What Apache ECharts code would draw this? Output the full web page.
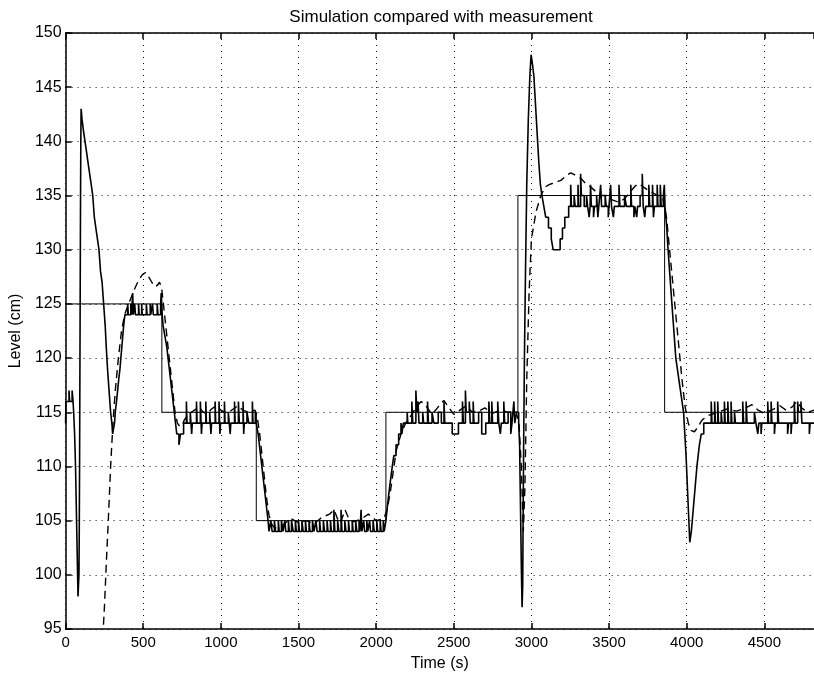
<!DOCTYPE html>
<html>
<head>
<meta charset="utf-8">
<script src="https://cdn.jsdelivr.net/npm/echarts@6/dist/echarts.min.js"></script>
<style>html,body{margin:0;padding:0;background:#fff}#c{width:814px;height:677px}</style>
</head>
<body>
<div id="c"></div>
<script>
const titleText = 'Simulation compared with measurement';
const xName = 'Time (s)';
const yName = 'Level (cm)';
const xMin = 0, xMax = 4820, xStep = 500;
const yMin = 95, yMax = 150, yStep = 5;

// Setpoint (thin solid)
const setpoint = [[0,125],[620,125],[620,115],[1228,115],[1228,105],[2063,105],[2063,115],[2913,115],[2913,135],[3858,135],[3858,115],[4820,115]];

// Measured level (quantized, value holds until next listed time)
const measured = [
[0,114],[2,116],[22,117],[26,116],[42,117],[48,116],[52,115],[58,113],[64,110],[68,107],[72,104],[76,101],[80,98],[86,100],[88,104],[90,110],[92,118],[94,126],[96,134],[98,140],[100,143],[106,142],[115,141],[125,140],[135,139],[145,138],[155,137],[165,136],[175,135],[185,133],[195,132],[205,131],[215,130],[225,128],[235,127],[245,125],[255,123],[262,121],[270,119],[280,117],[290,115],[298,114],[303,113],[315,114],[320,115],[328,116],[335,117],[342,118],[350,119],[356,120],[362,121],[368,122],[374,123],[382,124],
[400,125],[404,124],[420,125],[425,124],[432,126],[436,124],[445,125],[450,124],[470,125],[474,124],[490,125],[494,124],[520,125],[525,124],[545,125],[548,124],[560,125],[565,124],[590,125],[595,124],[612,125],[616,126],[622,124],[628,123],[640,122],[652,121],[660,120],[668,119],[676,118],[684,117],[692,116],[700,115],[708,114],[716,113],[730,112],[740,113],
[760,114],[778,116],[782,114],[803,115],[812,113],[816,114],[843,116],[847,114],[868,116],[875,113],[879,114],[903,116],[907,114],[928,115],[936,113],[940,114],[963,116],[967,114],[988,116],[994,113],[998,114],[1023,116],[1027,114],[1048,115],[1060,113],[1064,114],[1088,116],[1092,114],[1113,116],[1119,114],[1143,116],[1147,113],[1151,114],[1168,115],[1180,114],[1203,116],[1207,114],[1222,115],
[1228,114],[1240,113],[1248,112],[1256,111],[1264,110],[1272,109],[1280,108],[1288,107],[1296,106],[1304,105],
[1310,104],[1322,105],[1330,104],[1345,105],[1352,104],[1370,105],[1376,104],[1390,105],[1400,104],[1412,105],[1418,104],[1435,105],[1441,104],[1455,105],[1466,104],[1480,105],[1486,104],[1500,105],[1506,104],[1522,105],[1530,104],[1545,105],[1551,104],[1568,105],[1574,104],[1590,105],[1600,104],[1612,105],[1620,104],[1636,105],[1642,104],[1660,105],[1668,104],[1684,105],[1690,104],[1706,105],[1712,104],[1728,106],[1734,104],[1752,105],[1760,104],[1774,106],[1780,104],[1798,105],[1806,104],[1822,105],[1828,104],[1846,105],[1852,104],[1868,105],[1876,104],[1890,105],[1896,104],[1903,106],[1908,104],[1920,105],[1926,104],[1940,105],[1946,104],[1958,105],[1964,104],[1980,105],[1988,104],[2004,105],[2010,104],[2026,105],[2032,104],[2046,105],[2052,104],
[2063,105],[2070,106],[2078,107],[2086,108],[2095,109],[2104,110],[2114,111],[2128,112],[2145,113],[2160,114],[2166,113],
[2175,114],[2200,115],[2204,114],[2230,116],[2236,114],[2256,117],[2262,115],[2270,116],[2276,114],[2300,115],[2306,114],[2331,116],[2337,114],[2360,115],[2372,114],[2400,115],[2420,114],[2437,116],[2442,114],[2490,113],[2530,114],[2556,116],[2562,114],[2575,117],[2580,115],[2600,116],[2606,114],[2625,116],[2630,114],[2660,115],[2680,113],[2706,114],[2726,116],[2732,114],[2745,116],[2750,114],[2783,116],[2790,114],[2800,113],[2806,114],[2822,116],[2828,114],[2850,115],[2867,113],[2875,114],[2887,116],[2893,114],[2905,115],
[2918,114],[2924,112],[2928,108],[2932,104],[2936,100],[2940,97],[2944,99],[2946,104],[2950,112],[2955,120],[2962,128],[2970,136],[2980,142],[2990,146],[2998,148],[3008,147],[3016,146],[3024,144],[3032,142],[3040,140],[3048,138],[3058,136],[3068,135],[3080,134],[3092,133],[3110,132],[3128,131],[3140,130],[3185,131],[3200,132],[3215,133],
[3240,134],[3253,136],[3258,134],[3275,135],[3282,134],[3300,136],[3304,134],[3317,137],[3322,135],[3340,134],[3355,135],[3362,134],[3372,133],[3378,134],[3381,136],[3386,134],[3400,133],[3406,134],[3420,135],[3428,133],[3434,134],[3446,136],[3452,134],[3475,135],[3482,134],[3495,133],[3500,134],[3510,136],[3516,134],[3528,133],[3534,134],[3564,136],[3570,134],[3600,135],[3612,134],[3640,136],[3645,134],[3660,133],[3666,134],[3678,133],[3684,134],[3700,135],[3714,137],[3720,134],[3730,133],[3736,134],[3756,136],[3762,134],[3780,136],[3786,133],[3792,134],[3810,136],[3815,134],[3830,136],[3836,134],
[3850,135],[3856,136],[3860,134],[3866,133],[3872,132],[3880,130],[3890,128],[3900,126],[3910,124],[3920,122],[3930,120],[3940,119],[3950,118],[3960,117],[3970,116],[3980,115],[3988,113],[3996,111],[4002,109],[4008,107],[4014,105],[4020,103],[4030,104],[4036,105],[4042,106],[4048,107],[4054,108],[4060,109],[4066,110],[4074,111],[4082,112],[4094,113],
[4110,114],[4158,116],[4163,114],[4180,116],[4185,114],[4200,116],[4205,114],[4222,115],[4228,114],[4243,116],[4248,114],[4265,116],[4270,114],[4286,116],[4291,114],[4308,115],[4314,114],[4361,116],[4367,114],[4383,116],[4389,114],[4436,115],[4446,114],[4458,113],[4465,114],[4479,113],[4484,114],[4522,116],[4527,114],[4544,116],[4549,114],[4565,113],[4570,114],[4586,116],[4592,114],[4650,113],[4656,114],[4672,113],[4677,114],[4693,116],[4699,114],[4715,116],[4720,115],[4736,116],[4742,114],[4790,113],[4795,114],[4820,114]
];

// Simulated level (dashed)
const simulated = [
[235,93],[250,97],[262,101],[275,105],[290,110],[305,114],[320,117],[340,120],[360,122.5],[380,124],[400,124.8],[420,125.5],[445,126.4],[470,127.2],[495,127.7],[515,127.9],[535,127.5],[555,127],[575,126.6],[590,126.7],[605,127],[618,126.5],[630,125],[645,123],[660,121],[675,119],[690,117],[705,115],[720,114],[735,113.7],[750,113.8],[765,114.3],[790,114.8],[830,115.2],[860,115.5],[880,115.1],[910,114.8],[940,115.3],[970,115.6],[1000,115.2],[1040,114.9],[1080,115.3],[1110,115.6],[1140,115.2],[1180,115],[1220,115.2],
[1235,114.5],[1250,113],[1265,111],[1280,109],[1295,107],[1310,105.5],[1330,104.6],[1350,104.3],[1400,104.6],[1450,105.2],[1500,104.8],[1550,105],[1600,104.7],[1650,105.3],[1700,105.6],[1730,106],[1750,105.2],[1770,104.8],[1800,106],[1820,105.3],[1850,104.9],[1900,105.1],[1950,105.6],[2000,105],[2050,105.2],
[2070,106],[2090,107.5],[2110,109.5],[2130,111.5],[2160,113],[2190,114],[2230,114.8],[2260,115.5],[2290,116],[2320,115.6],[2360,114.8],[2400,115.5],[2436,116.1],[2470,115.4],[2500,114.8],[2540,115.2],[2580,115.6],[2620,115],[2660,115.1],[2700,115.4],[2750,114.9],[2800,115.2],[2850,115],[2900,115.1],
[2920,114],[2935,110],[2948,104],[2958,108],[2970,118],[2985,126],[3000,131],[3030,133.5],[3060,135],[3090,135.8],[3114,136],[3150,136.2],[3190,136.4],[3230,136.9],[3253,137.1],[3280,136.9],[3317,136.6],[3350,136.1],[3381,135.8],[3420,135.3],[3446,135],[3489,135],[3520,134.6],[3560,134.4],[3600,134.7],[3640,135.4],[3670,135.9],[3692,136.1],[3720,135.8],[3760,135.4],[3800,135.1],[3846,134.8],
[3870,133],[3890,130],[3910,127],[3930,124],[3950,121],[3970,118],[3990,115.5],[4010,114],[4030,113.3],[4050,113.2],[4070,113.6],[4100,114.3],[4140,114.7],[4200,115],[4260,115.3],[4320,115.1],[4380,115.4],[4420,115.7],[4460,115.2],[4500,114.9],[4560,115.3],[4600,115.6],[4640,115.2],[4680,115.5],[4710,116],[4740,115.4],[4780,115],[4820,115.2]
];

const FONT = '"Liberation Sans", Arial, Helvetica, sans-serif';
const plain = v => String(v);
const chart = echarts.init(document.getElementById('c'), null, {renderer: 'canvas'});
const gridLine = {show: true, lineStyle: {color: '#111', width: 1, type: [1, 5]}};
chart.setOption({
  animation: false,
  backgroundColor: '#fff',
  title: {
    text: titleText, left: 436, top: 4, textAlign: 'center',
    textStyle: {fontFamily: FONT, fontSize: 17, fontWeight: 'normal', color: '#000'}
  },
  grid: {left: 64, right: 0, top: 33, bottom: 46, containLabel: false},
  xAxis: [{
    type: 'value', min: xMin, max: xMax, interval: xStep,
    name: xName, nameLocation: 'middle', nameGap: 27,
    nameTextStyle: {fontFamily: FONT, fontSize: 16, color: '#000'},
    axisLine: {show: true, onZero: false, lineStyle: {color: '#000', width: 1.5}},
    axisTick: {show: true, inside: true, length: 6, lineStyle: {color: '#000', width: 1.5}},
    axisLabel: {fontFamily: FONT, fontSize: 15, color: '#000', margin: 6, showMaxLabel: false, formatter: plain},
    splitLine: gridLine
  }, {
    type: 'value', position: 'top', min: xMin, max: xMax, interval: xStep,
    axisLine: {show: true, onZero: false, lineStyle: {color: '#000', width: 1.5}},
    axisTick: {show: true, inside: true, length: 6, lineStyle: {color: '#000', width: 1.5}},
    axisLabel: {show: false}, splitLine: {show: false}
  }],
  yAxis: {
    type: 'value', min: yMin, max: yMax, interval: yStep,
    name: yName, nameLocation: 'middle', nameGap: 32, nameRotate: 90,
    nameTextStyle: {fontFamily: FONT, fontSize: 16, color: '#000'},
    axisLine: {show: true, onZero: false, lineStyle: {color: '#000', width: 1.5}},
    axisTick: {show: true, inside: true, length: 6, lineStyle: {color: '#000', width: 1.5}},
    axisLabel: {fontFamily: FONT, fontSize: 16, color: '#000', margin: 4, formatter: plain},
    splitLine: gridLine
  },
  series: [
    {type: 'line', name: 'Setpoint', data: setpoint, symbol: 'none', clip: true,
     lineStyle: {color: '#000', width: 1}},
    {type: 'line', name: 'Measurement', data: measured, step: 'end', symbol: 'none', clip: true,
     lineStyle: {color: '#000', width: 1.6}},
    {type: 'line', name: 'Simulation', data: simulated, symbol: 'none', clip: true, smooth: false,
     lineStyle: {color: '#000', width: 1.4, type: [8, 5]}}
  ]
});
</script>
</body>
</html>
